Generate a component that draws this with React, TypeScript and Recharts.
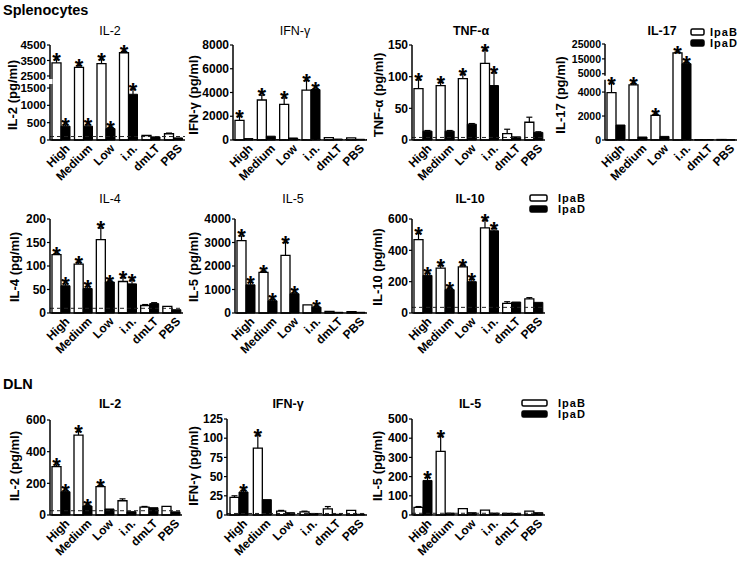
import React from 'react';
import { BarChart, Bar, XAxis, YAxis, ReferenceLine } from 'recharts';

const FONT = '"Liberation Sans", Arial, Helvetica, sans-serif';

const groups = ['High', 'Medium', 'Low', 'i.n.', 'dmLT', 'PBS'];

// Splenocytes IL-2 (broken axis)
const spIL2B = [3350, 3050, 3300, 4000, 130, 180];
const spIL2Be = [200, 120, 250, 80, 15, 20];
const spIL2D = [400, 400, 330, 1320, 90, 60];
const spIL2De = [40, 40, 30, 150, 10, 10];
const spIL2Stars = ['BD', 'BD', 'BD', 'BD', '', ''];
const spIL2Ticks = [0, 500, 1000, 1500, 2500, 3500, 4500];

// Splenocytes IFN-γ
const spIFNB = [1650, 3370, 3000, 4200, 200, 180];
const spIFNBe = [350, 420, 550, 800, 30, 30];
const spIFND = [120, 320, 170, 4250, 80, 60];
const spIFNDe = [10, 20, 15, 60, 10, 10];
const spIFNStars = ['B', 'B', 'B', 'BD', '', ''];
const spIFNTicks = [0, 2000, 4000, 6000, 8000];

// Splenocytes TNF-α
const spTNFB = [81, 86, 97, 121, 10, 28];
const spTNFBe = [14, 5, 7, 21, 7, 8];
const spTNFD = [14, 14, 25, 86, 5, 12];
const spTNFDe = [1, 1, 1, 20, 0.5, 1];
const spTNFStars = ['B', 'B', 'B', 'BD', '', ''];
const spTNFTicks = [0, 50, 100, 150];

// Splenocytes IL-17 (broken axis)
const spIL17B = [3950, 4600, 2050, 19000, 30, 40];
const spIL17Be = [800, 100, 80, 500, 5, 5];
const spIL17D = [1250, 250, 300, 11800, 40, 20];
const spIL17De = [10, 10, 10, 800, 5, 5];
const spIL17Stars = ['B', 'B', 'B', 'BD', '', ''];
const spIL17Ticks = [0, 2000, 4000, 5000, 15000, 25000];

// Splenocytes IL-4
const spIL4B = [124, 104, 156, 67, 16, 14];
const spIL4Be = [2, 4, 25, 8, 2, 1];
const spIL4D = [58, 52, 66, 62, 20, 7];
const spIL4De = [4, 4, 2, 8, 2, 1];
const spIL4Stars = ['BD', 'BD', 'BD', 'BD', '', ''];
const spIL4Ticks = [0, 50, 100, 150, 200];

// Splenocytes IL-5
const spIL5B = [3080, 1730, 2450, 350, 70, 60];
const spIL5Be = [200, 50, 550, 20, 10, 10];
const spIL5D = [1200, 520, 820, 250, 30, 30];
const spIL5De = [100, 60, 40, 40, 5, 5];
const spIL5Stars = ['BD', 'BD', 'BD', 'D', '', ''];
const spIL5Ticks = [0, 1000, 2000, 3000, 4000];

// Splenocytes IL-10
const spIL10B = [468, 287, 294, 543, 62, 90];
const spIL10Be = [40, 15, 12, 50, 10, 8];
const spIL10D = [240, 149, 200, 525, 70, 68];
const spIL10De = [15, 10, 15, 15, 3, 3];
const spIL10Stars = ['BD', 'BD', 'BD', 'BD', '', ''];
const spIL10Ticks = [0, 200, 400, 600];

// DLN IL-2
const dlIL2B = [305, 505, 179, 90, 50, 55];
const dlIL2Be = [12, 22, 6, 12, 4, 3];
const dlIL2D = [147, 57, 38, 21, 46, 20];
const dlIL2De = [6, 5, 2, 2, 3, 2];
const dlIL2Stars = ['BD', 'BD', 'B', '', '', ''];
const dlIL2Ticks = [0, 200, 400, 600];

// DLN IFN-γ
const dlIFNB = [23, 87, 5, 4, 8, 6];
const dlIFNBe = [2, 17, 1, 1, 3, 0.5];
const dlIFND = [30, 20, 3, 2, 1, 1];
const dlIFNDe = [2, 0.5, 0.3, 0.3, 0.2, 0.2];
const dlIFNStars = ['D', 'B', '', '', '', ''];
const dlIFNTicks = [0, 25, 50, 75, 100, 125];

// DLN IL-5
const dlIL5B = [40, 331, 33, 25, 8, 20];
const dlIL5Be = [4, 80, 2, 2, 1, 2];
const dlIL5D = [180, 10, 12, 10, 8, 12];
const dlIL5De = [15, 1, 1, 1, 1, 1];
const dlIL5Stars = ['D', 'B', '', '', '', ''];
const dlIL5Ticks = [0, 100, 200, 300, 400, 500];

function rows(b: number[], be: number[], d: number[], de: number[], stars: string[]) {
  return groups.map((g, i) => ({
    group: g,
    b: b[i],
    be: be[i],
    d: d[i],
    de: de[i],
    sb: stars[i].includes('B'),
    sd: stars[i].includes('D'),
  }));
}

// piecewise linear scale for the broken y axes
function brokenScale(dom: number[], pos: number[]) {
  let domain = [dom[0], dom[dom.length - 1]];
  let range = [0, 1];
  const norm = (v: number) => {
    for (let i = 0; i < dom.length - 1; i++) {
      if (v <= dom[i + 1] || i === dom.length - 2) {
        return pos[i] + ((v - dom[i]) / (dom[i + 1] - dom[i])) * (pos[i + 1] - pos[i]);
      }
    }
    return 0;
  };
  const s: any = (v: number) => range[0] + norm(v) * (range[1] - range[0]);
  s.domain = (d?: number[]) => {
    if (!d) return domain.slice();
    domain = d.slice();
    return s;
  };
  s.range = (r?: number[]) => {
    if (!r) return range.slice();
    range = r.slice();
    return s;
  };
  s.copy = () => brokenScale(dom, pos).domain(domain).range(range);
  s.ticks = () => dom.slice();
  s.invert = (px: number) => {
    const t = (px - range[0]) / (range[1] - range[0]);
    for (let i = 0; i < pos.length - 1; i++) {
      if (t <= pos[i + 1]) return dom[i] + ((t - pos[i]) / (pos[i + 1] - pos[i])) * (dom[i + 1] - dom[i]);
    }
    return dom[dom.length - 1];
  };
  return s;
}

const GroupTick = (props: any) => {
  const { x, y, payload } = props;
  return (
    <text
      x={x}
      y={y}
      dy={13}
      transform={`rotate(-45 ${x} ${y})`}
      textAnchor="end"
      fontSize={12}
      fontWeight="bold"
      fontFamily={FONT}
      fill="#000"
    >
      {payload.value}
    </text>
  );
};

type Brk = { at: number; dy: number; h: number };

// y tick label, with a small white gap on the axis line where the axis is broken
const makeYTick = (fontSize: number, brk?: Brk) => (props: any) => {
  const { x, y, payload } = props;
  return (
    <g>
      {brk && payload.value === brk.at && (
        <rect x={x + 2} y={y + brk.dy} width={4.5} height={brk.h} fill="#fff" />
      )}
      <text
        x={x}
        y={y}
        dy="0.35em"
        textAnchor="end"
        fontSize={fontSize}
        fontWeight="bold"
        fontFamily={FONT}
        fill="#000"
      >
        {payload.value}
      </text>
    </g>
  );
};

const errShape = (flag: 'sb' | 'sd') => (props: any) => {
  const { x, y, width, height, payload } = props;
  const cx = x + width / 2;
  const top = y;
  const bottom = y + height;
  return (
    <g>
      {height > 0.6 && <line x1={cx} x2={cx} y1={bottom} y2={top} stroke="#000" strokeWidth={1.2} />}
      {height > 0.6 && <line x1={cx - 3} x2={cx + 3} y1={top} y2={top} stroke="#000" strokeWidth={1.2} />}
      {payload[flag] && (
        <text x={cx} y={top + 8.5} textAnchor="middle" fontSize={22} fontWeight="bold" fontFamily={FONT} fill="#000">
          *
        </text>
      )}
    </g>
  );
};

const AXIS_W = 46;
const TOP_M = 14;
const XH = 52;

type PanelProps = {
  data: any[];
  x0: number;
  x1: number;
  yT: number;
  yB: number;
  max: number;
  ticks: number[];
  limit?: number;
  scale?: any;
  tickFont?: number;
  brk?: Brk;
};

function Panel({ data, x0, x1, yT, yB, max, ticks, limit, scale, tickFont = 12, brk }: PanelProps) {
  const width = AXIS_W + (x1 - x0) + 4;
  const height = TOP_M + (yB - yT) + XH;
  const YTick = makeYTick(tickFont, brk);
  return (
    <div style={{ position: 'absolute', left: x0 - AXIS_W, top: yT - TOP_M }}>
      <BarChart
        width={width}
        height={height}
        data={data}
        margin={{ top: TOP_M, right: 4, bottom: 0, left: 0 }}
        barGap={0}
        barSize={9}
      >
        <XAxis
          dataKey="group"
          type="category"
          interval={0}
          tickLine={false}
          tickSize={0}
          tickMargin={0}
          axisLine={{ stroke: '#000', strokeWidth: 1.5 }}
          tick={<GroupTick />}
          height={XH}
        />
        <YAxis
          type="number"
          domain={[0, max]}
          ticks={ticks}
          interval={0}
          width={AXIS_W}
          tickSize={3}
          tickMargin={1}
          tickLine={{ stroke: '#000', strokeWidth: 1.2 }}
          axisLine={{ stroke: '#000', strokeWidth: 1.5 }}
          tick={<YTick />}
          scale={scale ?? 'auto'}
        />
        {limit != null && <ReferenceLine y={limit} stroke="#222" strokeDasharray="4 3" strokeWidth={1} />}
        <Bar dataKey="b" stackId="b" fill="#fff" stroke="#000" strokeWidth={1.3} isAnimationActive={false} />
        <Bar dataKey="be" stackId="b" shape={errShape('sb')} isAnimationActive={false} />
        <Bar dataKey="d" stackId="d" fill="#000" stroke="#000" strokeWidth={1} isAnimationActive={false} />
        <Bar dataKey="de" stackId="d" shape={errShape('sd')} isAnimationActive={false} />
      </BarChart>
    </div>
  );
}

const titles = [
  { t: 'IL-2', x: 110, y: 35, bold: false },
  { t: 'IFN-γ', x: 295, y: 35, bold: false },
  { t: 'TNF-α', x: 471, y: 35, bold: true },
  { t: 'IL-17', x: 662, y: 35, bold: true },
  { t: 'IL-4', x: 110, y: 203, bold: false },
  { t: 'IL-5', x: 293, y: 203, bold: false },
  { t: 'IL-10', x: 470, y: 203, bold: true },
  { t: 'IL-2', x: 110, y: 408, bold: true },
  { t: 'IFN-γ', x: 288, y: 408, bold: true },
  { t: 'IL-5', x: 470, y: 408, bold: true },
];

const yLabels = [
  { t: 'IL-2 (pg/ml)', x: 12, y: 95 },
  { t: 'IFN-γ (pg/ml)', x: 193, y: 95 },
  { t: 'TNF-α (pg/ml)', x: 378, y: 95 },
  { t: 'IL-17 (pg/ml)', x: 560, y: 95 },
  { t: 'IL-4 (pg/ml)', x: 14, y: 267 },
  { t: 'IL-5 (pg/ml)', x: 193, y: 267 },
  { t: 'IL-10 (pg/ml)', x: 377, y: 267 },
  { t: 'IL-2 (pg/ml)', x: 14, y: 466 },
  { t: 'IFN-γ (pg/ml)', x: 193, y: 466 },
  { t: 'IL-5 (pg/ml)', x: 377, y: 466 },
];

const legends = [
  { x: 691, w: 13, y: 29 },
  { x: 530, w: 17, y: 195 },
  { x: 522, w: 25, y: 400 },
];
const legendTextX = [710, 558, 558];

export default function App() {
  return (
    <div style={{ position: 'relative', width: 750, height: 563, background: '#fff', fontFamily: FONT }}>
      <style>{'body{margin:0}'}</style>

      <Panel
        data={rows(spIL2B, spIL2Be, spIL2D, spIL2De, spIL2Stars)}
        x0={50} x1={185} yT={45} yB={140} max={4500}
        ticks={spIL2Ticks} limit={100} tickFont={11.5}
        scale={brokenScale([0, 1500, 2500, 4500], [0, 0.547, 0.674, 1])}
        brk={{ at: 1500, dy: -9, h: 5 }}
      />
      <Panel
        data={rows(spIFNB, spIFNBe, spIFND, spIFNDe, spIFNStars)}
        x0={233} x1={367} yT={45} yB={140} max={8000}
        ticks={spIFNTicks} limit={40}
      />
      <Panel
        data={rows(spTNFB, spTNFBe, spTNFD, spTNFDe, spTNFStars)}
        x0={412} x1={545} yT={45} yB={140} max={150}
        ticks={spTNFTicks} limit={4}
      />
      <Panel
        data={rows(spIL17B, spIL17Be, spIL17D, spIL17De, spIL17Stars)}
        x0={605} x1={737} yT={44} yB={140} max={25000}
        ticks={spIL17Ticks} limit={20} tickFont={10.5}
        scale={brokenScale([0, 4990, 5000, 25000], [0, 0.623, 0.69, 1])}
        brk={{ at: 5000, dy: 2, h: 4 }}
      />

      <Panel
        data={rows(spIL4B, spIL4Be, spIL4D, spIL4De, spIL4Stars)}
        x0={50} x1={183} yT={219} yB={313} max={200}
        ticks={spIL4Ticks} limit={10}
      />
      <Panel
        data={rows(spIL5B, spIL5Be, spIL5D, spIL5De, spIL5Stars)}
        x0={235} x1={367} yT={219} yB={313} max={4000}
        ticks={spIL5Ticks}
      />
      <Panel
        data={rows(spIL10B, spIL10Be, spIL10D, spIL10De, spIL10Stars)}
        x0={412} x1={545} yT={219} yB={313} max={600}
        ticks={spIL10Ticks} limit={36}
      />

      <Panel
        data={rows(dlIL2B, dlIL2Be, dlIL2D, dlIL2De, dlIL2Stars)}
        x0={50} x1={182} yT={420} yB={515} max={600}
        ticks={dlIL2Ticks} limit={27}
      />
      <Panel
        data={rows(dlIFNB, dlIFNBe, dlIFND, dlIFNDe, dlIFNStars)}
        x0={227} x1={367} yT={419} yB={515} max={125}
        ticks={dlIFNTicks} limit={2}
      />
      <Panel
        data={rows(dlIL5B, dlIL5Be, dlIL5D, dlIL5De, dlIL5Stars)}
        x0={412} x1={545} yT={419} yB={515} max={500}
        ticks={dlIL5Ticks} limit={9}
      />

      <svg
        width={750}
        height={563}
        style={{ position: 'absolute', left: 0, top: 0, pointerEvents: 'none' }}
        fontFamily={FONT}
      >
        <text x={3} y={15} fontSize={14.5} fontWeight="bold">Splenocytes</text>
        <text x={3} y={389} fontSize={14.5} fontWeight="bold">DLN</text>
        {titles.map((d, i) => (
          <text key={i} x={d.x} y={d.y} textAnchor="middle" fontSize={12.5} fontWeight={d.bold ? 'bold' : 'normal'}>
            {d.t}
          </text>
        ))}
        {yLabels.map((d, i) => (
          <text
            key={i}
            transform={`translate(${d.x},${d.y}) rotate(-90)`}
            textAnchor="middle"
            dy="0.35em"
            fontSize={13}
            fontWeight="bold"
          >
            {d.t}
          </text>
        ))}
        {legends.map((l, i) => (
          <g key={i}>
            <rect x={l.x} y={l.y} width={l.w} height={6} rx={1.5} fill="#fff" stroke="#000" strokeWidth={1.5} />
            <rect x={l.x} y={l.y + 11} width={l.w} height={6} rx={1.5} fill="#000" stroke="#000" strokeWidth={1.5} />
            <text x={legendTextX[i]} y={l.y + 7} fontSize={11} fontWeight="bold" letterSpacing={1}>IpaB</text>
            <text x={legendTextX[i]} y={l.y + 18} fontSize={11} fontWeight="bold" letterSpacing={1}>IpaD</text>
          </g>
        ))}
      </svg>
    </div>
  );
}
